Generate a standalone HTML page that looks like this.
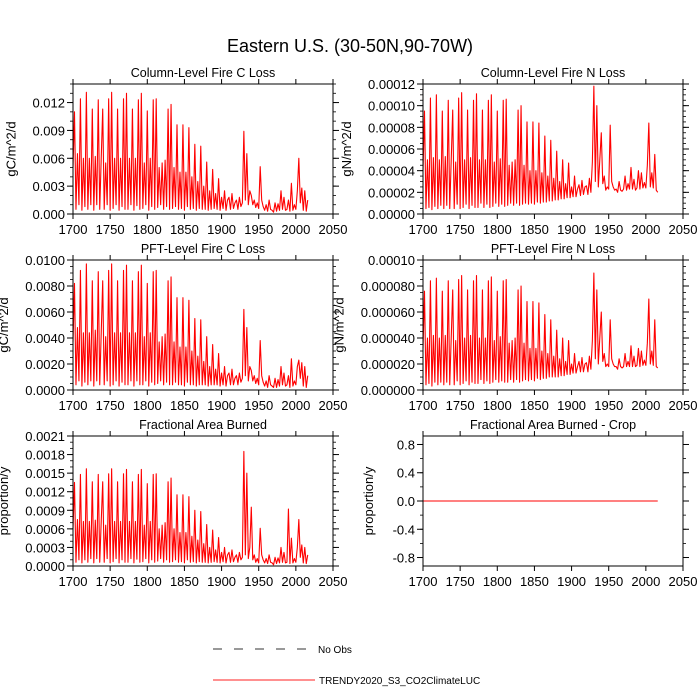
<!DOCTYPE html>
<html><head><meta charset="utf-8"><style>
html,body{margin:0;padding:0;background:#fff;}
svg{display:block;font-family:"Liberation Sans",Helvetica,Arial,sans-serif;}
</style></head><body>
<svg id="chart" width="700" height="700" viewBox="0 0 700 700">
<text x="350" y="52" text-anchor="middle" font-size="18">Eastern U.S. (30-50N,90-70W)</text>
<g id="panels"></g>
<g>
<line x1="213" y1="649" x2="310" y2="649" stroke="#333" stroke-width="0.9" stroke-dasharray="9,12"/>
<text x="318" y="653" font-size="10">No Obs</text>
<line x1="213" y1="680" x2="315" y2="680" stroke="#ff2222" stroke-width="0.9"/>
<text x="319" y="684" font-size="10">TRENDY2020_S3_CO2ClimateLUC</text>
</g>
</svg>
<script>
const startYear = 1700;
const yearStep = 2;
const colC = [5,11,0.5,6.5,1,12.4,0.4,6,0.8,13.1,
0.5,6,1,11.3,0.4,6.2,1,12.3,0.5,6,
11.3,0.5,5.5,1,12.4,0.4,13.1,0.6,6,1,
11.3,0.4,6,0.8,12.4,0.5,13,0.5,6,1,
11.3,0.4,6,0.9,12.3,0.5,13,0.6,5.5,1,
11.1,0.4,6,0.8,12.3,0.5,12.4,0.7,5,1,
5.5,0.5,5.8,0.8,11.3,0.5,11.8,0.6,5,0.8,
9.6,0.5,4.5,0.6,9.6,0.4,4.5,0.8,9.3,0.5,
4,0.6,7.5,0.4,3.5,0.6,7.3,0.5,3,0.5,
5.6,0.4,2.5,0.5,4.8,0.6,2.2,0.5,3.8,0.4,
1.8,0.6,2.5,0.4,1.5,1.8,0.5,2.2,0.6,1.2,
1.5,0.5,1.8,0.8,1.2,8.9,1.5,6.5,1,2.5,
2,1,1.5,0.7,1.2,0.6,5.1,1.5,0.8,0.4,
1,0.3,1.5,0.5,0.4,0.2,1.2,0.3,1.1,0.4,
2.5,0.5,1.8,0.4,0.5,1.5,0.3,3.3,0.4,1,
0.5,2.5,6,1.2,2.8,0.4,2.5,0.3,1.5];
const colN = [4,9.5,0.5,5,0.6,10.7,0.4,5.2,0.7,11,
0.5,5,0.8,9.5,0.5,5.3,0.8,10.5,0.5,5,
9.6,0.5,4.8,0.9,10.7,0.5,11.2,0.6,5,0.9,
9.6,0.5,5.2,0.8,10.5,0.6,11.1,0.6,5,1,
9.6,0.6,5,0.9,10.5,0.6,11,0.7,4.8,1,
9.5,0.7,5.1,0.9,10.5,0.7,10.6,0.8,4.5,1,
4.8,0.8,5,1,9.6,0.8,10,0.9,4.5,1,
8.5,0.9,4,1,8.5,0.9,4,1.1,8.4,1,
3.8,1.1,7.2,1.1,3.5,1.2,6.8,1.2,3.3,1.3,
5.8,1.3,3,1.4,5,1.4,2.8,1.5,4.7,1.5,
2.5,1.6,3.5,1.6,2.3,2.7,1.7,3.1,1.8,2.5,
2.6,1.8,3.3,2,4.8,11.8,3,10,2.5,5,
7.5,2.8,3.5,2.2,2.5,2.3,8.2,3,2.5,2.2,
2.3,2,3,2.2,2.1,2.3,3.5,2.2,2.8,2.3,
4.3,2.3,3.2,2.2,2.4,4,2.3,3.8,2.4,2.9,
2.4,4.5,8.4,2.5,3.8,2.4,5.5,2.2,2];
const pftC = [3.7,8.2,0.4,4.8,0.7,9.2,0.3,4.4,0.6,9.7,
0.4,4.4,0.7,8.4,0.3,4.6,0.7,9.1,0.4,4.4,
8.4,0.4,4.1,0.7,9.2,0.3,9.7,0.4,4.4,0.7,
8.4,0.3,4.4,0.6,9.2,0.4,9.6,0.4,4.4,0.7,
8.4,0.3,4.4,0.7,9.1,0.4,9.6,0.4,4.1,0.7,
8.2,0.3,4.4,0.6,9.1,0.4,9.2,0.5,3.7,0.7,
4.1,0.4,4.3,0.6,8.4,0.4,8.7,0.4,3.7,0.6,
7.1,0.4,3.3,0.4,7.1,0.3,3.3,0.6,6.9,0.4,
3,0.4,5.5,0.3,2.6,0.4,5.4,0.4,2.2,0.4,
4.1,0.3,1.8,0.4,3.5,0.4,1.6,0.4,2.8,0.3,
1.3,0.4,1.8,0.3,1.1,1.3,0.4,1.6,0.4,0.9,
1.1,0.4,1.3,0.6,0.9,6.2,1.1,4.8,0.7,1.8,
1.5,0.7,1.1,0.5,0.9,0.4,3.8,1.1,0.6,0.3,
0.7,0.2,1.1,0.4,0.3,0.2,0.9,0.2,0.8,0.3,
1.8,0.4,1.3,0.3,0.4,1.1,0.2,2.4,0.3,0.7,
0.4,1.8,2.3,0.9,2.1,0.3,1.8,0.2,1.1];
const pftN = [32,76,4,40,5,84,3,42,6,86,
4,40,6,76,4,42,6,84,4,40,
77,4,38,7,85,4,88,5,40,7,
77,4,42,6,84,5,88,5,40,8,
77,5,40,7,84,5,87,6,38,8,
76,6,41,7,84,6,85,6,36,8,
38,6,40,8,77,6,80,7,36,8,
68,7,32,8,68,7,32,9,67,8,
30,9,58,9,28,10,54,10,26,10,
46,10,24,11,40,11,22,12,38,12,
20,13,28,13,18,22,14,25,14,20,
21,14,26,16,38,90,24,77,20,40,
60,22,28,18,20,18,54,24,20,18,
18,16,24,18,17,18,28,18,22,18,
34,18,26,18,19,32,18,30,19,23,
19,36,70,20,30,19,54,18,17];
const areaBurned = [6,13.5,0.6,7.5,1,14.8,0.5,7.2,1,15.7,
0.6,7.2,1.2,13.6,0.5,7.4,1.2,14.8,0.6,7.2,
13.6,0.6,6.6,1.2,14.9,0.5,15.7,0.7,7.2,1.2,
13.6,0.5,7.2,1,14.9,0.6,15.6,0.6,7.2,1.2,
13.6,0.5,7.2,1.1,14.8,0.6,15.6,0.7,6.6,1.2,
13.3,0.5,7.2,1,14.8,0.6,14.9,0.8,6,1.2,
6.6,0.6,7,1,13.6,0.6,14.2,0.7,6,1,
11.5,0.6,5.4,0.7,11.5,0.5,5.4,1,11.2,0.6,
4.8,0.7,9,0.5,4.2,0.7,8.8,0.6,3.6,0.6,
6.7,0.5,3,0.6,5.8,0.7,2.6,0.6,4.6,0.5,
2.2,0.7,3,0.5,1.8,2.2,0.6,2.6,0.7,1.4,
1.8,0.6,2.2,1,1.4,18.5,1.8,15,1.2,3,
9.5,1,1.8,0.6,1.2,0.5,6.1,1.8,1,0.5,
1.2,0.4,1.8,0.6,0.5,0.2,1.4,0.4,1.3,0.5,
3,0.6,2.2,0.5,0.6,9.2,0.4,4.5,0.5,1.2,
0.6,3,7.5,1.4,3.4,0.5,3,0.4,1.8];
const areaCrop = [0,0];
const cropYears = [1700,2016];
const xTicks = [1700,1750,1800,1850,1900,1950,2000,2050];
const ticksColC = ["0.000","0.003","0.006","0.009","0.012"];
const ticksColN = ["0.00000","0.00002","0.00004","0.00006","0.00008","0.00010","0.00012"];
const ticksPftC = ["0.0000","0.0020","0.0040","0.0060","0.0080","0.0100"];
const ticksPftN = ["0.000000","0.000020","0.000040","0.000060","0.000080","0.00010"];
const ticksArea = ["0.0000","0.0003","0.0006","0.0009","0.0012","0.0015","0.0018","0.0021"];
const ticksCrop = ["-0.8","-0.4","0.0","0.4","0.8"];

const NS = "http://www.w3.org/2000/svg";
const root = document.getElementById('panels');
function mk(tag, attrs, parent){
  const e = document.createElementNS(NS, tag);
  for (const k in attrs) e.setAttribute(k, attrs[k]);
  parent.appendChild(e);
  return e;
}
const panels = [
 {name:'column-fire-c', title:'Column-Level Fire C Loss', ytitle:'gC/m^2/d', x0:73, y0:84, data:colC, scale:1e-3, ymin:0, ymax:0.014, ticks:ticksColC, minor:0.001},
 {name:'column-fire-n', title:'Column-Level Fire N Loss', ytitle:'gN/m^2/d', x0:423, y0:84, data:colN, scale:1e-5, ymin:0, ymax:0.00012, ticks:ticksColN, minor:0.000005},
 {name:'pft-fire-c', title:'PFT-Level Fire C Loss', ytitle:'gC/m^2/d', x0:73, y0:260, data:pftC, scale:1e-3, ymin:0, ymax:0.01, ticks:ticksPftC, minor:0.0005},
 {name:'pft-fire-n', title:'PFT-Level Fire N Loss', ytitle:'gN/m^2/d', x0:423, y0:260, data:pftN, scale:1e-6, ymin:0, ymax:0.0001, ticks:ticksPftN, minor:0.000005},
 {name:'area-burned', title:'Fractional Area Burned', ytitle:'proportion/y', x0:73, y0:436, data:areaBurned, scale:1e-4, ymin:0, ymax:0.0021, ticks:ticksArea, minor:0.0001},
 {name:'area-burned-crop', title:'Fractional Area Burned - Crop', ytitle:'proportion/y', x0:423, y0:436, data:areaCrop, years:cropYears, scale:1, ymin:-0.92, ymax:0.92, ticks:ticksCrop, minor:0.2}
];
const W = 260, H = 130;
panels.forEach(p => {
  const g = mk('g', {}, root);
  
  
  const xs = v => p.x0 + (v - 1700) / 350 * W;
  const ys = v => p.y0 + H - (v - p.ymin) / (p.ymax - p.ymin) * H;
  const t = mk('text', {x: p.x0 + W/2, y: p.y0 - 7, 'text-anchor':'middle', 'font-size':12.5}, g);
  t.textContent = p.title;
  
  
  let pts = [];
  p.data.forEach((v, i) => {
    const yr = p.years ? p.years[i] : startYear + i * yearStep;
    pts.push(xs(yr).toFixed(2) + ',' + ys(v * p.scale).toFixed(2));
  });
  const line = mk('polyline', {points: pts.join(' '), fill:'none', stroke:'#ff0000', 'stroke-width':1.1, 'stroke-linejoin':'round'}, g);
  
  
  const fr = mk('rect', {x:p.x0, y:p.y0, width:W, height:H, fill:'none', stroke:'#000', 'stroke-width':1}, g);
  
  
  xTicks.forEach(v => {
    const x = xs(v);
    mk('line', {x1:x, y1:p.y0+H, x2:x, y2:p.y0+H+5, stroke:'#000'}, g);
    mk('line', {x1:x, y1:p.y0, x2:x, y2:p.y0-5, stroke:'#000'}, g);
    const lt = mk('text', {x:x, y:p.y0+H+20, 'text-anchor':'middle', 'font-size':13}, g);
    lt.textContent = v;
    
    
  });
  for (let v = Math.ceil(p.ymin / p.minor - 1e-6) * p.minor; v <= p.ymax + 1e-12; v += p.minor) {
    const y = ys(v);
    mk('line', {x1:p.x0, y1:y, x2:p.x0-3, y2:y, stroke:'#000', 'stroke-width':0.8}, g);
    mk('line', {x1:p.x0+W, y1:y, x2:p.x0+W+3, y2:y, stroke:'#000', 'stroke-width':0.8}, g);
  }
  p.ticks.forEach(s => {
    const y = ys(parseFloat(s));
    mk('line', {x1:p.x0, y1:y, x2:p.x0-6, y2:y, stroke:'#000'}, g);
    mk('line', {x1:p.x0+W, y1:y, x2:p.x0+W+6, y2:y, stroke:'#000'}, g);
    const lt = mk('text', {x:p.x0-8, y:y+5, 'text-anchor':'end', 'font-size':13}, g);
    lt.textContent = s;
    
    
  });
  let longest = 0;
  p.ticks.forEach(s => { longest = Math.max(longest, s.length); });
  const tx = p.x0 - 12 - longest * 7.3 - 9;
  const yt = mk('text', {x:tx, y:p.y0+H/2, 'text-anchor':'middle', 'font-size':13, transform:'rotate(-90 ' + tx + ' ' + (p.y0+H/2) + ')'}, g);
  yt.textContent = p.ytitle;
  
  
});
</script>
</body></html>
